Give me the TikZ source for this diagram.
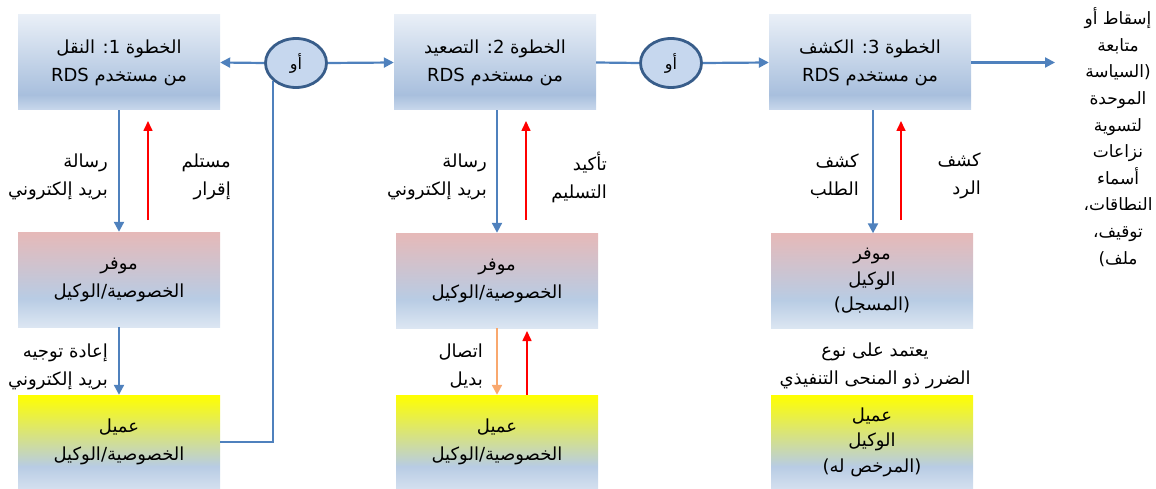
\documentclass[tikz,border=0pt]{standalone}
\usepackage{fontspec}
\newfontfamily\arfont[Script=Arabic]{DejaVu Sans}
\TeXXeTstate=1
\usetikzlibrary{arrows.meta,shapes.geometric}

\newcommand\RLline[1]{\beginR #1\endR}

% colours
\definecolor{linkblue}{HTML}{4F81BD}
\definecolor{ovalfill}{HTML}{C6D7EE}
\definecolor{ovaledge}{HTML}{385D8A}
\definecolor{altorange}{HTML}{F9A86E}
\definecolor{stTop}{HTML}{E9EFF7}
\definecolor{stMid}{HTML}{A8BFDD}
\definecolor{stBot}{HTML}{C9D8EC}
\definecolor{pvTop}{HTML}{E6B9B8}
\definecolor{pvMid}{HTML}{B8CCE4}
\definecolor{pvBot}{HTML}{DCE6F2}
\definecolor{clTop}{HTML}{FFFF00}
\definecolor{clMid}{HTML}{B8CCE4}
\definecolor{clBot}{HTML}{D4E0EF}

% vertical shadings (the path spans 25bp..75bp)
\pgfdeclareverticalshading{stepshade}{100bp}{color(0bp)=(stBot); color(25bp)=(stBot); color(33bp)=(stMid); color(75bp)=(stTop); color(100bp)=(stTop)}
\pgfdeclareverticalshading{provshade}{100bp}{color(0bp)=(pvBot); color(25bp)=(pvBot); color(40bp)=(pvMid); color(75bp)=(pvTop); color(100bp)=(pvTop)}
\pgfdeclareverticalshading{clientshade}{100bp}{color(0bp)=(clBot); color(25bp)=(clBot); color(37bp)=(clMid); color(75bp)=(clTop); color(100bp)=(clTop)}

\tikzset{
  artext/.style={font=\arfont\fontsize{18}{28}\selectfont, text=black},
  threeline/.style={font=\arfont\fontsize{18}{25.5}\selectfont},
  stepbox/.style={artext, minimum width=202, minimum height=95, inner sep=0, shading=stepshade, align=center},
  provbox/.style={artext, minimum width=202, minimum height=95, inner sep=0, shading=provshade, align=center},
  clientbox/.style={artext, minimum width=202, minimum height=94, inner sep=0, shading=clientshade, align=center},
  orbox/.style={ellipse, draw=ovaledge, line width=2.8pt, fill=ovalfill, minimum width=61, minimum height=49, inner sep=0, font=\arfont\fontsize{16}{18}\selectfont},
  tip/.style={-{Triangle[length=10pt,width=10pt]}},
  blueflow/.style={tip, draw=linkblue, line width=2.2pt},
  blueline/.style={draw=linkblue, line width=2.2pt},
  redflow/.style={-{Triangle[length=10pt,width=9pt]}, draw=red, line width=1.6pt},
  orangeflow/.style={tip, draw=altorange, line width=2.2pt},
  lbl/.style={artext, inner sep=0, align=right, anchor=east},
}

\begin{document}
\begin{tikzpicture}[x=1pt, y=-1pt]
\useasboundingbox (0,0) rectangle (1156,489);

% step boxes
\node[stepbox] (s1) at (119,62.5) {\RLline{الخطوة 1: النقل}\\\RLline{من مستخدم RDS}};
\node[stepbox] (s2) at (495,62.5) {\RLline{الخطوة 2: التصعيد}\\\RLline{من مستخدم RDS}};
\node[stepbox] (s3) at (870,62.5) {\RLline{الخطوة 3: الكشف}\\\RLline{من مستخدم RDS}};

% provider boxes
\node[provbox] (p1) at (119,279.5) {\RLline{موفر}\\\RLline{الخصوصية/الوكيل}};
\node[provbox] (p2) at (497,280.5) {\RLline{موفر}\\\RLline{الخصوصية/الوكيل}};
\node[provbox, threeline] (p3) at (872,281) {\RLline{موفر}\\\RLline{الوكيل}\\\RLline{(المسجل)}};

% client boxes
\node[clientbox] (c1) at (119,442) {\RLline{عميل}\\\RLline{الخصوصية/الوكيل}};
\node[clientbox] (c2) at (497,442) {\RLline{عميل}\\\RLline{الخصوصية/الوكيل}};
\node[clientbox, threeline] (c3) at (872,442) {\RLline{عميل}\\\RLline{الوكيل}\\\RLline{(المرخص له)}};

% "or" ovals
\node[orbox] (o1) at (296,63) {أو};
\node[orbox] (o2) at (671,63) {أو};

% horizontal flow
\draw[blueflow] (o1.west) -- (s1.east);
\draw[blueflow] (o1.east) -- (s2.west);
\draw[blueline] (s2.east) -- (o2.west);
\draw[blueflow] (o2.east) -- (s3.west);
\coordinate (outcome) at (1055,62.5);
\draw[blueflow] (s3.east) -- (outcome);
\draw[blueline] (o1.218) |- (c1.east);

% column 1
\draw[blueflow] (s1.south) -- (p1.north);
\coordinate (r1a) at (148,220);
\coordinate (r1b) at (148,121);
\draw[redflow] (r1a) -- (r1b);
\draw[blueflow] (p1.south) -- (c1.north);

% column 2
\draw[blueflow] (p2.north |- s2.south) -- (p2.north);
\coordinate (r2a) at (526,220);
\coordinate (r2b) at (526,121);
\draw[redflow] (r2a) -- (r2b);
\draw[orangeflow] (p2.south) -- (c2.north);
\coordinate (r4b) at (527,331);
\draw[redflow] (c2.north -| r4b) -- (r4b);

% column 3
\draw[blueflow] ([xshift=1pt]p3.north |- s3.south) -- ([xshift=1pt]p3.north);
\coordinate (r3a) at (901,220);
\coordinate (r3b) at (901,121);
\draw[redflow] (r3a) -- (r3b);

% flow labels
\node[lbl] (m1) at (108,177) {\RLline{رسالة}\\\RLline{بريد إلكتروني}};
\node[lbl] (a1) at (231,177) {\RLline{مستلم}\\\RLline{إقرار}};
\node[lbl] (f1) at (108,367) {\RLline{إعادة توجيه}\\\RLline{بريد إلكتروني}};
\node[lbl] (m2) at (487,177) {\RLline{رسالة}\\\RLline{بريد إلكتروني}};
\node[lbl] (a2) at (607,177) {\RLline{تأكيد}\\\RLline{التسليم}};
\node[lbl] (alt2) at (483,366) {\RLline{اتصال}\\\RLline{بديل}};
\node[lbl] (q3) at (859,176) {\RLline{كشف}\\\RLline{الطلب}};
\node[lbl] (r3) at (981,176) {\RLline{كشف}\\\RLline{الرد}};
\node[artext, inner sep=0, align=center] (dep3) at (875,366) {\RLline{يعتمد على نوع}\\\RLline{الضرر ذو المنحى التنفيذي}};

% outcome text
\node[artext, inner sep=0, align=center, font=\arfont\fontsize{17}{26.6}\selectfont] (res) at (1118,137)
  {\RLline{إسقاط أو}\\\RLline{متابعة}\\\RLline{(السياسة}\\\RLline{الموحدة}\\\RLline{لتسوية}\\\RLline{نزاعات}\\\RLline{أسماء}\\\RLline{النطاقات،}\\\RLline{توقيف،}\\\RLline{ملف)}};
\end{tikzpicture}
\end{document}
